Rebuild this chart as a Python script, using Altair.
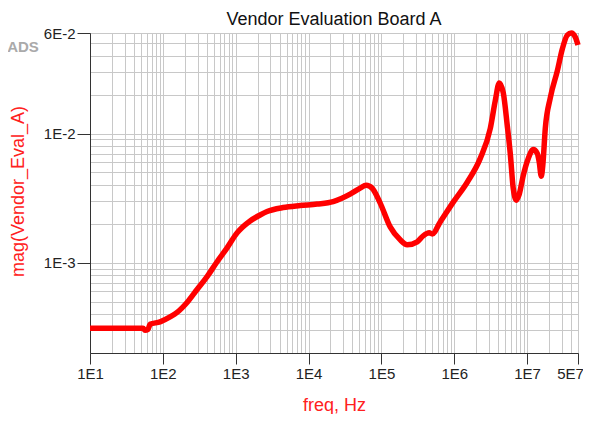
import altair as alt
import pandas as pd

# Frequency (Hz) and magnitude values
freq = [10, 53.5, 56.9, 62.6, 66.7, 91.5, 125.6, 156.7, 214.9, 295, 404.6, 555.6, 762,
        1045, 1577, 2164, 2700, 4478, 7670, 13130, 21780, 37250, 51150, 61800, 74800,
        96300, 132100, 181200, 226000, 310300, 375000, 453600, 498800, 642300, 968800,
        1.509e6, 2.276e6, 3.124e6, 3.658e6, 4.15e6, 4.71e6, 5.346e6, 5.874e6, 6.45e6,
        7.11e6, 7.81e6, 8.87e6, 1.038e7, 1.217e7, 1.38e7, 1.47e7, 1.567e7, 1.643e7,
        1.778e7, 2.084e7, 2.6e7, 3.045e7, 3.566e7, 4.05e7, 4.6e7, 5.0e7]
mag = [3.107e-4, 3.107e-4, 3.0e-4, 3.05e-4, 3.335e-4, 3.485e-4, 3.81e-4, 4.125e-4,
       4.925e-4, 6.2e-4, 7.8e-4, 1.018e-3, 1.304e-3, 1.702e-3, 2.104e-3, 2.34e-3,
       2.49e-3, 2.673e-3, 2.77e-3, 2.844e-3, 2.972e-3, 3.396e-3, 3.775e-3, 3.98e-3,
       3.775e-3, 2.895e-3, 1.892e-3, 1.503e-3, 1.375e-3, 1.452e-3, 1.614e-3, 1.702e-3,
       1.671e-3, 2.067e-3, 2.944e-3, 4.2e-3, 6.42e-3, 1.093e-2, 1.794e-2, 2.466e-2,
       2.067e-2, 1.152e-2, 7.02e-3, 3.775e-3, 3.05e-3, 3.396e-3, 4.75e-3, 6.42e-3,
       7.53e-3, 7.02e-3, 5.98e-3, 4.67e-3, 5.67e-3, 1.093e-2, 1.892e-2, 3.05e-2,
       4.51e-2, 5.78e-2, 5.99e-2, 5.57e-2, 4.84e-2]

x_major = [10, 100, 1000, 10000, 100000, 1000000, 10000000, 50000000]
y_major = [0.001, 0.01, 0.06]
x_grid = [k * 10 ** n for n in range(1, 8) for k in range(1, 10) if k * 10 ** n <= 5e7]
y_grid = [round(k * 10.0 ** n, 6) for n in (-4, -3, -2) for k in range(1, 10)
          if 2e-4 - 1e-12 <= k * 10.0 ** n <= 0.06 + 1e-12]

df = pd.DataFrame({"freq": freq, "mag": mag})

FONT = "Liberation Sans"
x_test = "indexof(" + str(x_major) + ", datum.value) >= 0"
y_test = "indexof(" + str(y_major) + ", datum.value) >= 0"

x_axis = alt.Axis(
    values=x_grid, grid=True, gridColor="#c8c8c8", gridWidth=1,
    tickSize=11, tickColor="#333333",
    tickOpacity={"condition": {"test": x_test, "value": 1}, "value": 0},
    labelExpr="datum.value == 50000000 ? '5E7' : (" + x_test
              + " ? '1E' + round(log(datum.value)/LN10) : '')",
    labelOffset={"condition": {"test": "datum.value == 50000000", "value": -8},
                 "value": 0},
    labelOverlap=False, labelFlush=False, labelBound=False,
    labelFont=FONT, labelFontSize=15, labelColor="#222222", labelPadding=2,
    domainColor="#333333",
    title="freq, Hz", titleFont=FONT, titleFontSize=18, titleFontWeight="normal",
    titleColor="#ff2020", titleX=244, titleY=57, titleBaseline="alphabetic",
    titleAlign="center",
)
y_axis = alt.Axis(
    values=y_grid, grid=True, gridColor="#c8c8c8", gridWidth=1,
    tickSize=13, tickColor="#333333",
    tickOpacity={"condition": {"test": y_test, "value": 1}, "value": 0},
    labelExpr="datum.value == 0.06 ? '6E-2' : (datum.value == 0.01 ? '1E-2' : "
              "(datum.value == 0.001 ? '1E-3' : ''))",
    labelOverlap=False, labelFlush=False, labelBound=False,
    labelFont=FONT, labelFontSize=15, labelColor="#222222", labelPadding=2,
    domainColor="#333333",
    title="mag(Vendor_Eval_A)", titleFont=FONT, titleFontSize=18,
    titleFontWeight="normal", titleColor="#ff2020", titleX=-72, titleY=158,
    titleBaseline="middle", titleAlign="center", titleAngle=270,
)

line = alt.Chart(df).mark_line(
    color="#ff0000", strokeWidth=5.5, interpolate="monotone", strokeJoin="round"
).encode(
    x=alt.X("freq:Q", scale=alt.Scale(type="log", domain=[10, 5e7], nice=False),
            axis=x_axis),
    y=alt.Y("mag:Q", scale=alt.Scale(type="log", domain=[2e-4, 6e-2], nice=False),
            axis=y_axis),
)

label_df = pd.DataFrame({"t": ["x"]})
title_txt = alt.Chart(label_df).mark_text(
    font=FONT, fontSize=18, color="#111111", align="center", baseline="alphabetic"
).encode(x=alt.value(244), y=alt.value(-8), text=alt.value("Vendor Evaluation Board A"))

ads_txt = alt.Chart(label_df).mark_text(
    font="Liberation Sans Narrow, Liberation Sans, sans-serif", fontSize=15,
    fontWeight="bold", color="#aaaaaa", align="center", baseline="alphabetic"
).encode(x=alt.value(-67), y=alt.value(19), text=alt.value("ADS"))

chart = alt.layer(line, title_txt, ads_txt).properties(
    width=488, height=320,
    autosize=alt.AutoSizeParams(type="none"),
    padding={"left": 82, "top": 25, "right": 5, "bottom": 61},
).configure_view(stroke="#333333", strokeWidth=1)

chart.save("out.html", embed_options={"renderer": "svg", "actions": False})
